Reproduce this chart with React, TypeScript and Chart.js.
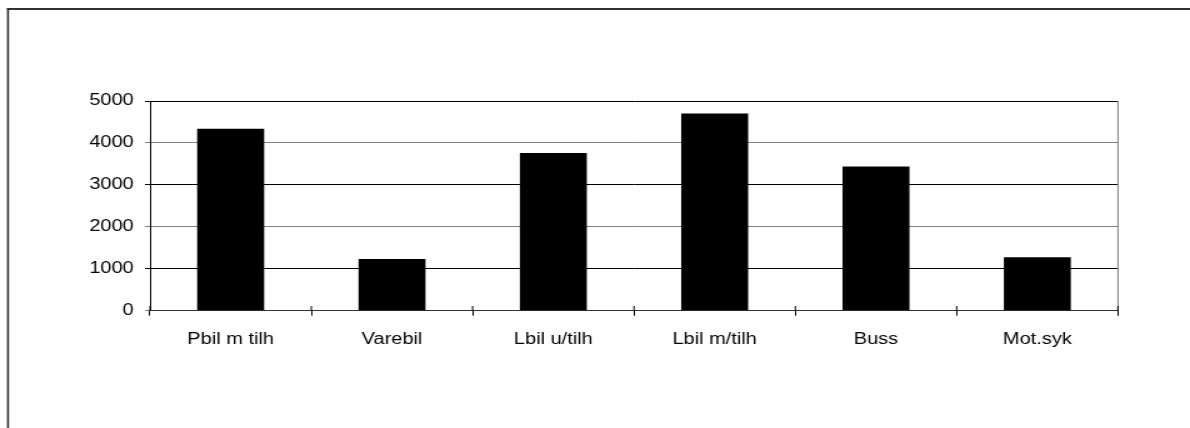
import React, { useEffect, useRef } from "react";
import { Chart, registerables } from "chart.js";

Chart.register(...registerables);

const categories = ["Pbil m tilh", "Varebil", "Lbil u/tilh", "Lbil m/tilh", "Buss", "Mot.syk"];
const values = [4340, 1235, 3760, 4700, 3440, 1275];
const yTicks = [0, 1000, 2000, 3000, 4000, 5000];

// The reference is horizontally stretched; draw at reduced width and stretch via CSS.
const STRETCH = 1.25;
const OUT_W = 1190;
const OUT_H = 428;
const IN_W = Math.round(OUT_W / STRETCH);

const framePlugin = {
  id: "frame",
  beforeDraw(chart: any) {
    const { ctx, width, height } = chart;
    ctx.save();
    ctx.fillStyle = "#333333";
    ctx.fillRect(7 / STRETCH, 8, width, 2);
    ctx.fillRect(7 / STRETCH, 8, 2 / STRETCH, height);
    ctx.restore();
  },
  afterDraw(chart: any) {
    const { ctx, chartArea } = chart;
    const xs = chart.scales.x;
    ctx.save();
    ctx.lineWidth = 1;
    ctx.strokeStyle = "#808080";
    ctx.beginPath();
    ctx.moveTo(chartArea.right, chartArea.top);
    ctx.lineTo(chartArea.right, chartArea.bottom);
    ctx.stroke();
    const n = categories.length;
    const w = (chartArea.right - chartArea.left) / n;
    ctx.strokeStyle = "#000";
    ctx.beginPath();
    for (let i = 0; i <= n; i++) {
      const x = i < n ? xs.getPixelForValue(i) - w / 2 : xs.getPixelForValue(n - 1) + w / 2;
      ctx.moveTo(x, Math.round(chartArea.bottom) - 5);
      ctx.lineTo(x, chartArea.bottom);
    }
    ctx.stroke();
    ctx.restore();
  },
};

export default function App() {
  const ref = useRef<HTMLCanvasElement | null>(null);

  useEffect(() => {
    if (!ref.current) return;
    const font = { family: "'Liberation Sans', Arial, sans-serif", size: 16 };
    const gridColor = (c: any) =>
      c.tick && (c.tick.value === 1000 || c.tick.value === 3000 || c.tick.value === 5000) ? "#000000" : "#808080";
    const chart = new Chart(ref.current, {
      type: "bar",
      data: {
        labels: categories,
        datasets: [
          {
            data: values,
            backgroundColor: "#000000",
            borderWidth: 0,
            barPercentage: 0.415,
            categoryPercentage: 1,
          },
        ],
      },
      options: {
        animation: false,
        responsive: false,
        devicePixelRatio: 1,
        layout: {
          padding: { left: 0, top: 101, right: IN_W - 1118 / STRETCH, bottom: OUT_H - 310.7 - 40 },
        },
        plugins: {
          legend: { display: false },
          tooltip: { enabled: false },
          title: { display: false },
        },
        scales: {
          x: {
            offset: true,
            afterFit: (s: any) => {
              s.height = 40;
            },
            grid: {
              offset: true,
              display: true,
              drawOnChartArea: false,
              drawTicks: true,
              tickLength: 5,
              color: "#000000",
            },
            border: { display: true, color: "#333333", width: 1 },
            ticks: { color: "#000000", font, padding: 14, maxRotation: 0, autoSkip: false },
          },
          y: {
            min: 0,
            max: 5000,
            afterFit: (s: any) => {
              s.width = 150 / STRETCH;
            },
            afterBuildTicks: (s: any) => {
              s.ticks = yTicks.map((v) => ({ value: v }));
            },
            grid: {
              color: gridColor,
              tickColor: gridColor,
              drawTicks: true,
              tickLength: 5 / STRETCH,
            },
            border: { display: true, color: "#000000", width: 1 },
            ticks: {
              color: "#000000",
              font,
              padding: 9,
              callback: (v: any) => String(v),
            },
          },
        },
      },
      plugins: [framePlugin],
    });
    if (ref.current) {
      ref.current.style.width = OUT_W + "px";
      ref.current.style.height = OUT_H + "px";
    }
    return () => chart.destroy();
  }, []);

  return (
    <canvas
      ref={ref}
      width={IN_W}
      height={OUT_H}
      style={{ position: "absolute", left: 0, top: 0, width: OUT_W + "px", height: OUT_H + "px", display: "block" }}
    />
  );
}
